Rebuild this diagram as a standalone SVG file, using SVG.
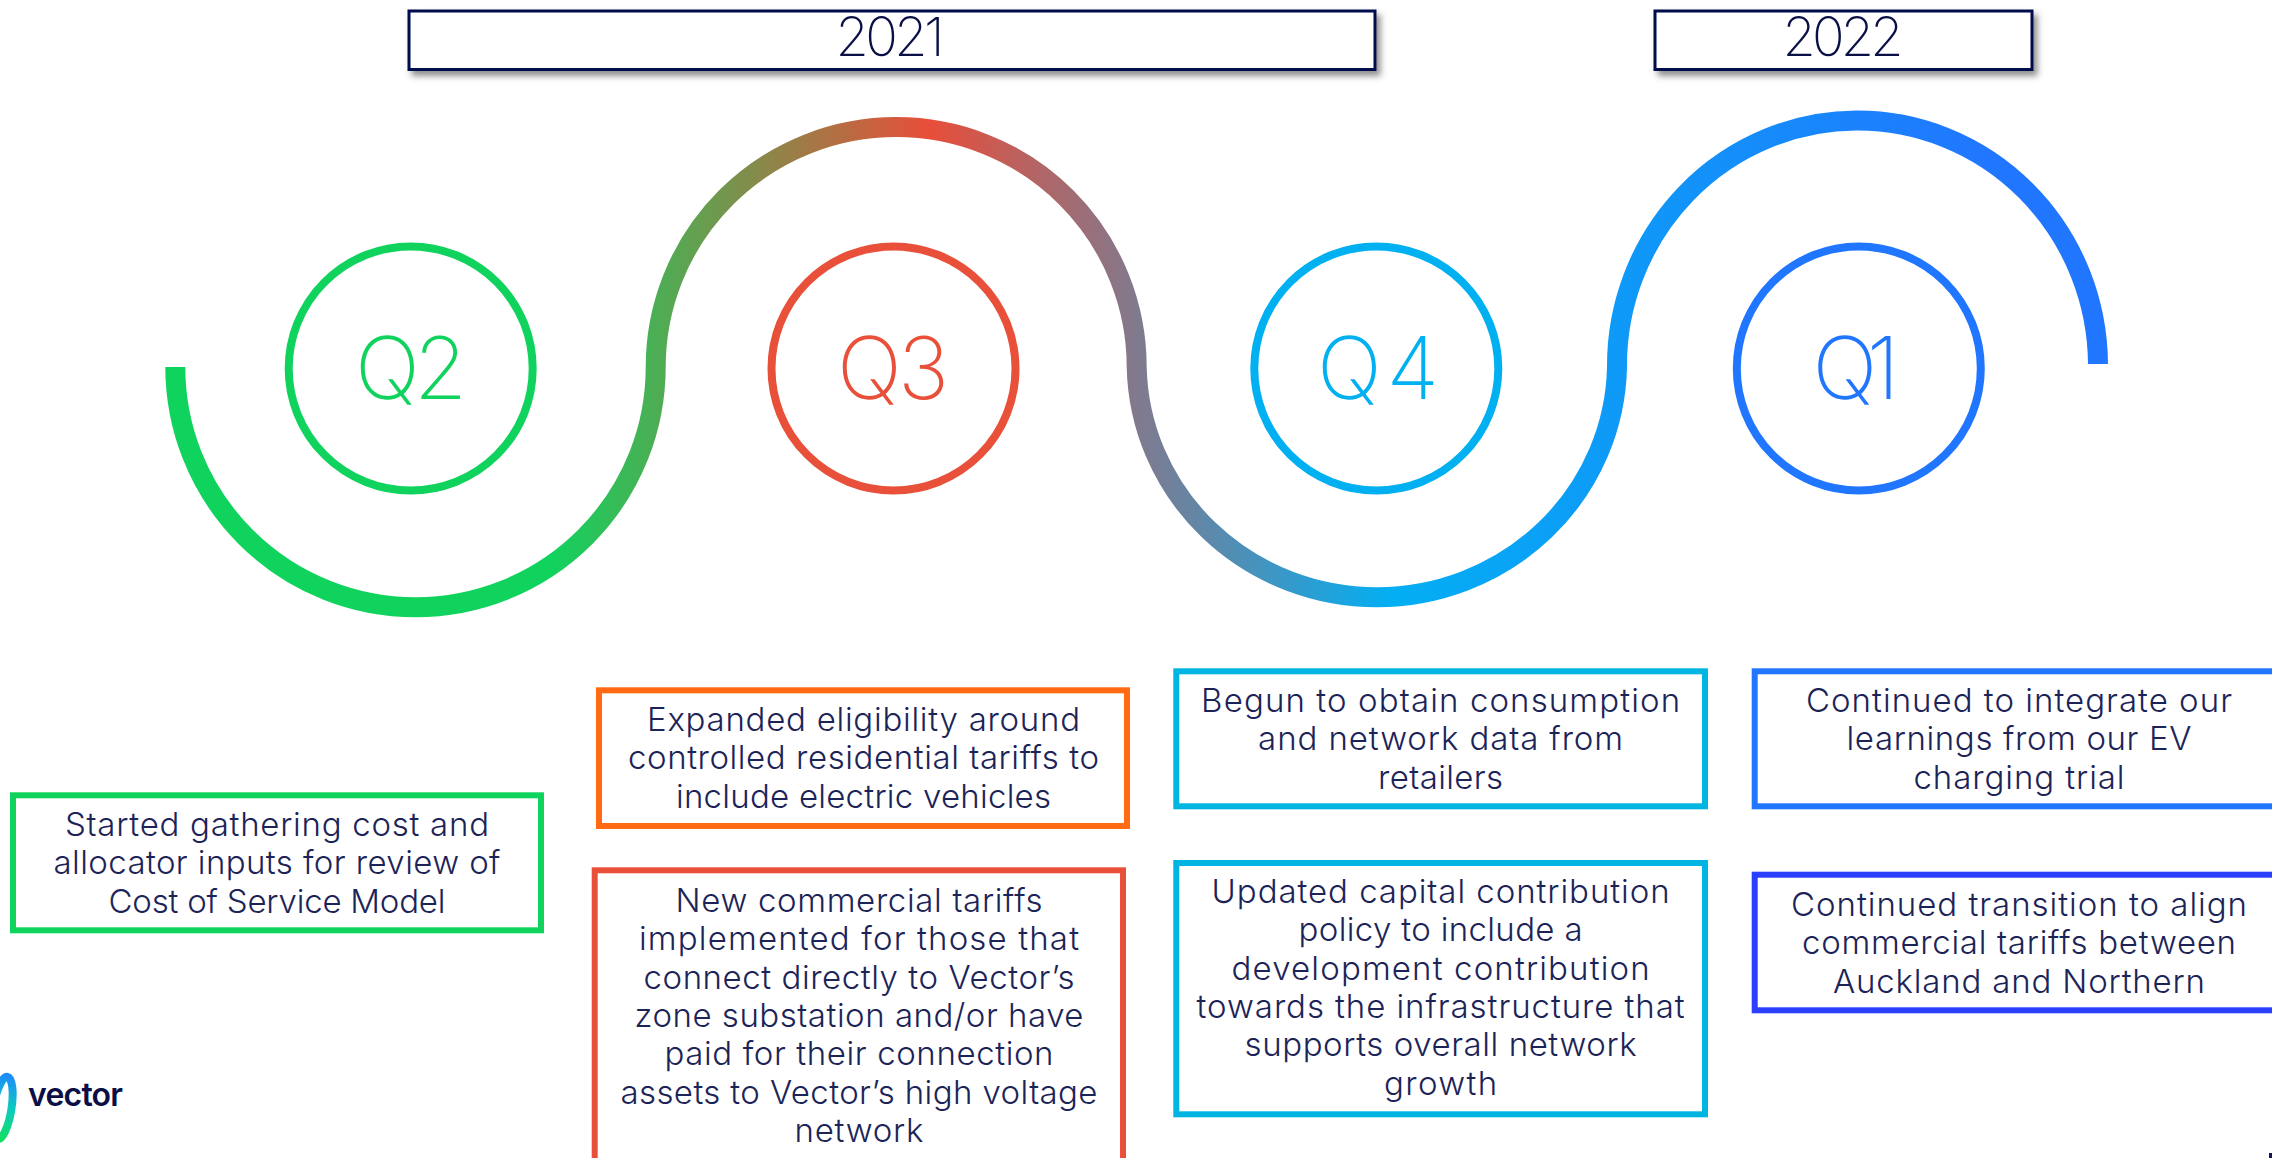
<svg xmlns="http://www.w3.org/2000/svg" width="2272" height="1158" viewBox="0 0 2272 1158">
<style>
.b{fill:#fff;stroke-width:6}
.t{font-family:"Inter","Liberation Sans",sans-serif;font-weight:300;font-size:33px;fill:#1c2457;text-anchor:middle}
.hd{fill:#fff;stroke:#00074d;stroke-width:3;filter:url(#sh)}
.ht{font-family:"Inter","Liberation Sans",sans-serif;font-weight:200;font-size:54px;fill:#0a1045;text-anchor:middle}
.c{fill:#fff;stroke-width:8}
.q{font-family:"Inter","Liberation Sans",sans-serif;font-weight:200;font-size:86px;text-anchor:middle}
</style>
<defs>
<filter id="sh" x="-5%" y="-30%" width="110%" height="170%"><feDropShadow dx="4" dy="5" stdDeviation="3" flood-color="#444" flood-opacity=".6"/></filter>
<linearGradient id="wave" gradientUnits="userSpaceOnUse" x1="0" y1="0" x2="2272" y2="0">
<stop offset=".242" stop-color="#10d35e"/><stop offset=".409" stop-color="#e84e3a"/><stop offset=".612" stop-color="#03aff3"/><stop offset=".876" stop-color="#2176ff"/>
</linearGradient>
<linearGradient id="logo" gradientUnits="userSpaceOnUse" x1="0" y1="1072" x2="0" y2="1143">
<stop offset="0" stop-color="#1e86ff"/><stop offset=".5" stop-color="#0ccbc0"/><stop offset="1" stop-color="#14e05a"/>
</linearGradient>
</defs>
<rect width="2272" height="1158" fill="#fff"/>
<g id="connectors">
<path d="M175.3 367A240 240 0 0 0 655.7 367A240.5 240 0 0 1 1136.7 367A240.2 235 0 0 0 1617 367A240.5 245 0 0 1 2098 364" fill="none" stroke="url(#wave)" stroke-width="20"/>
</g>
<g id="year-2021"><rect class="hd" x="409" y="11" width="966" height="58.5"/><text class="ht" x="890" y="56" textLength="109">2021</text></g>
<g id="year-2022"><rect class="hd" x="1655" y="11" width="377" height="58.5"/><text class="ht" x="1843" y="56" textLength="121">2022</text></g>
<g id="q2"><circle class="c" cx="410.7" cy="368.5" r="122" stroke="#10d35e"/><text class="q" x="411" y="399" fill="#10d35e" textLength="112">Q2</text></g>
<g id="q3"><circle class="c" cx="893.5" cy="368.5" r="122" stroke="#e8503a"/><text class="q" x="893" y="399" fill="#e8503a" textLength="112">Q3</text></g>
<g id="q4"><circle class="c" cx="1376.3" cy="368.5" r="122" stroke="#00b0f0"/><text class="q" x="1378" y="399" fill="#00b0f0" textLength="122">Q4</text></g>
<g id="q1"><circle class="c" cx="1858.8" cy="368.5" r="122" stroke="#2176ff"/><text class="q" x="1856" y="399" fill="#2176ff" textLength="87">Q1</text></g>
<g id="box-q2"><rect class="b" x="13" y="795.3" width="528" height="135" stroke="#10d35e"/>
<text class="t" x="277" y="836" textLength="424">Started gathering cost and</text>
<text class="t" x="277" y="874.4" textLength="447">allocator inputs for review of</text>
<text class="t" x="277" y="912.8" textLength="337">Cost of Service Model</text></g>
<g id="box-q3a"><rect class="b" x="599" y="690.3" width="528" height="135.7" stroke="#ff6a13"/>
<text class="t" x="863.5" y="731" textLength="433">Expanded eligibility around</text>
<text class="t" x="863.5" y="769.4" textLength="471">controlled residential tariffs to</text>
<text class="t" x="863.5" y="807.8" textLength="375">include electric vehicles</text></g>
<g id="box-q3b"><rect class="b" x="594.7" y="870.3" width="528.3" height="310" stroke="#e8503a"/>
<text class="t" x="859" y="911.7" textLength="367">New commercial tariffs</text>
<text class="t" x="859" y="950.1" textLength="440">implemented for those that</text>
<text class="t" x="859" y="988.5" textLength="431">connect directly to Vector’s</text>
<text class="t" x="859" y="1026.9" textLength="449">zone substation and/or have</text>
<text class="t" x="859" y="1065.3" textLength="389">paid for their connection</text>
<text class="t" x="859" y="1103.7" textLength="477">assets to Vector’s high voltage</text>
<text class="t" x="859" y="1142.1" textLength="129">network</text></g>
<g id="box-q4a"><rect class="b" x="1176.3" y="671.3" width="528.7" height="135" stroke="#00b5e2"/>
<text class="t" x="1440.6" y="711.7" textLength="479">Begun to obtain consumption</text>
<text class="t" x="1440.6" y="750.1" textLength="365">and network data from</text>
<text class="t" x="1440.6" y="788.5" textLength="125">retailers</text></g>
<g id="box-q4b"><rect class="b" x="1176.3" y="863" width="528.7" height="251.3" stroke="#00b5e2"/>
<text class="t" x="1440.6" y="902.7" textLength="458">Updated capital contribution</text>
<text class="t" x="1440.6" y="941.1" textLength="284">policy to include a</text>
<text class="t" x="1440.6" y="979.5" textLength="418">development contribution</text>
<text class="t" x="1440.6" y="1017.9" textLength="488">towards the infrastructure that</text>
<text class="t" x="1440.6" y="1056.3" textLength="392">supports overall network</text>
<text class="t" x="1440.6" y="1094.7" textLength="113">growth</text></g>
<g id="box-q1a"><rect class="b" x="1754.7" y="671.3" width="540" height="135" stroke="#2176ff"/>
<text class="t" x="2019" y="711.7" textLength="426">Continued to integrate our</text>
<text class="t" x="2019" y="750.1" textLength="345">learnings from our EV</text>
<text class="t" x="2019" y="788.5" textLength="211">charging trial</text></g>
<g id="box-q1b"><rect class="b" x="1754.7" y="874.7" width="540" height="135.6" stroke="#2a3fff"/>
<text class="t" x="2019" y="916" textLength="456">Continued transition to align</text>
<text class="t" x="2019" y="954.4" textLength="434">commercial tariffs between</text>
<text class="t" x="2019" y="992.8" textLength="372">Auckland and Northern</text></g>
<g id="logo-mark">
<ellipse cx="2.5" cy="1108" rx="9" ry="31.5" transform="rotate(9 2.5 1108)" fill="none" stroke="url(#logo)" stroke-width="8"/>
<text x="28" y="1106" font-family="Inter,'Liberation Sans',sans-serif" font-weight="600" font-size="32" fill="#0b0f45" textLength="95">vector</text>
</g>
<rect id="corner-mark" x="2269" y="1153" width="3" height="5" fill="#14145a"/>
</svg>
